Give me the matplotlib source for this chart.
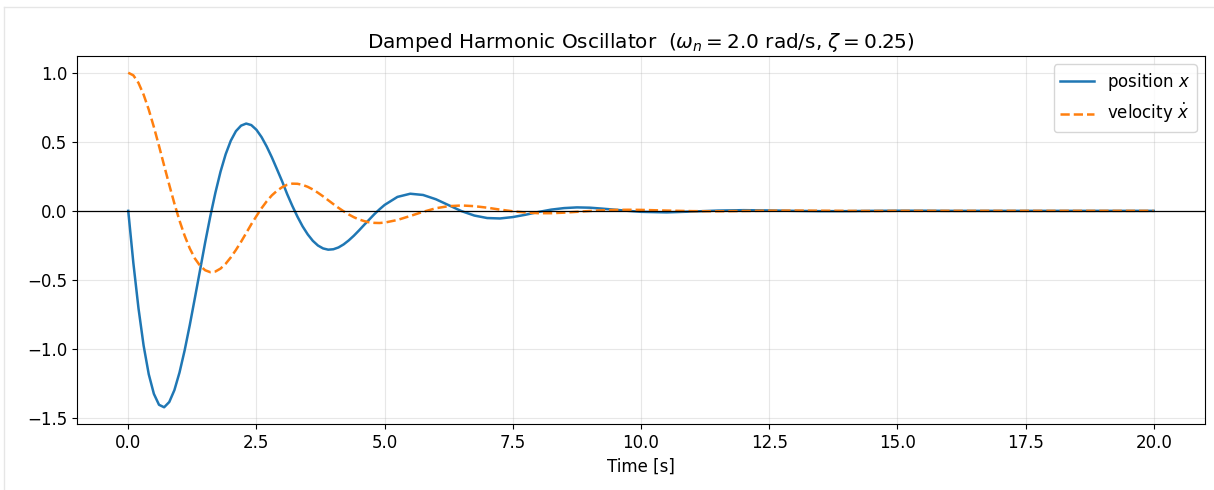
import numpy as np
import matplotlib
matplotlib.use("Agg")
import matplotlib.pyplot as plt
from matplotlib.lines import Line2D

plt.rcParams["font.size"] = 12

# sample times [s]
time = [
    0.0, 0.1, 0.2, 0.3, 0.4, 0.5, 0.6, 0.7, 0.8, 0.9,
    1.0, 1.1, 1.2, 1.3, 1.4, 1.5, 1.6, 1.7, 1.8, 1.9,
    2.0, 2.1, 2.2, 2.3, 2.4, 2.5, 2.6, 2.7, 2.8, 2.9,
    3.0, 3.1, 3.2, 3.3, 3.4, 3.5, 3.6, 3.7, 3.8, 3.9,
    4.0, 4.1, 4.2, 4.3, 4.4, 4.5, 4.6, 4.7, 4.8, 4.9,
    5.0, 5.25, 5.5, 5.75, 6.0, 6.25, 6.5, 6.75, 7.0, 7.25,
    7.5, 7.75, 8.0, 8.25, 8.5, 8.75, 9.0, 9.25, 9.5, 9.75,
    10.0, 10.5, 11.0, 11.5, 12.0, 12.5, 13.0, 13.5, 14.0, 14.5,
    15.0, 15.5, 16.0, 17.0, 18.0, 19.0, 20.0,
]

position = [
    0.000, -0.378, -0.706, -0.976, -1.183, -1.325, -1.404, -1.422, -1.384, -1.298,
    -1.170, -1.010, -0.827, -0.630, -0.430, -0.229, -0.040, 0.132, 0.284, 0.410,
    0.508, 0.577, 0.617, 0.632, 0.621, 0.587, 0.534, 0.466, 0.388, 0.302,
    0.215, 0.121, 0.036, -0.042, -0.112, -0.170, -0.217, -0.251, -0.272, -0.281,
    -0.278, -0.265, -0.243, -0.214, -0.180, -0.142, -0.102, -0.063, -0.024, 0.011,
    0.043, 0.101, 0.124, 0.115, 0.084, 0.041, -0.002, -0.034, -0.052, -0.055,
    -0.045, -0.028, -0.008, 0.009, 0.020, 0.025, 0.023, 0.016, 0.008, -0.000,
    -0.007, -0.011, -0.005, 0.002, 0.005, 0.003, -0.000, -0.002, -0.002, -0.000,
    0.001, 0.001, 0.000, -0.000, 0.000, 0.000, -0.000,
]

velocity = [
    1.000, 0.981, 0.926, 0.841, 0.733, 0.607, 0.470, 0.328, 0.188, 0.053,
    -0.071, -0.180, -0.272, -0.345, -0.397, -0.430, -0.444, -0.439, -0.418, -0.383,
    -0.337, -0.283, -0.224, -0.161, -0.097, -0.038, 0.019, 0.069, 0.112, 0.145,
    0.171, 0.189, 0.197, 0.196, 0.188, 0.174, 0.155, 0.131, 0.105, 0.077,
    0.049, 0.022, -0.003, -0.026, -0.046, -0.062, -0.074, -0.083, -0.087, -0.088,
    -0.085, -0.066, -0.037, -0.007, 0.019, 0.034, 0.039, 0.034, 0.023, 0.009,
    -0.003, -0.012, -0.017, -0.017, -0.013, -0.007, -0.001, 0.004, 0.007, 0.008,
    0.007, 0.002, -0.002, -0.003, -0.001, 0.001, 0.002, 0.001, -0.000, -0.001,
    -0.000, -0.000, 0.000, 0.000, -0.000, 0.000, 0.000,
]

fig = plt.figure(figsize=(12.14, 4.9), dpi=100)
ax = fig.add_axes([0.0634, 0.1347, 0.9292, 0.751])

ax.plot(time, position, color="#1f77b4", lw=1.8, label="position $x$")
ax.plot(time, velocity, color="#ff7f0e", lw=1.8, ls="--", label=r"velocity $\dot{x}$")
ax.axhline(0, color="black", lw=0.9)

ax.set_xlabel("Time [s]")
ax.set_title(r"Damped Harmonic Oscillator  ($\omega_n = 2.0$ rad/s, $\zeta = 0.25$)")
ax.grid(True, alpha=0.3)
ax.legend(loc="upper right")

# thin frame lines along the top and left of the canvas
fig.add_artist(Line2D([4 / 1214, 1], [1 - 7 / 490, 1 - 7 / 490],
                      transform=fig.transFigure, color="#e6e6e6", lw=1))
fig.add_artist(Line2D([4 / 1214, 4 / 1214], [0, 1 - 7 / 490],
                      transform=fig.transFigure, color="#e6e6e6", lw=1))

fig.savefig("out.png", dpi=100)
